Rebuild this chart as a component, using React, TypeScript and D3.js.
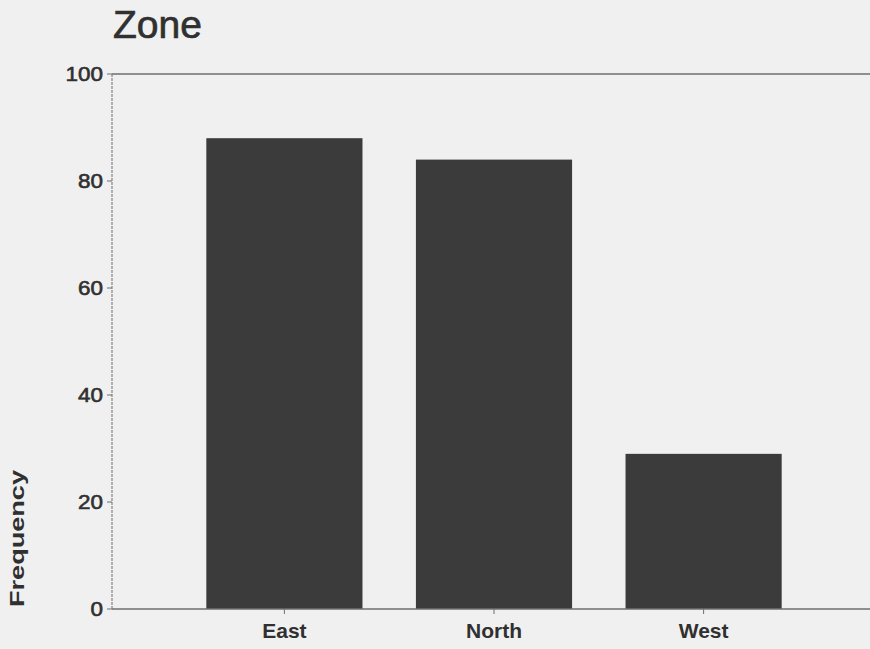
import React from "react";
import * as d3 from "d3";

const categories: string[] = ["East", "North", "West"];
const frequencies: number[] = [88, 84, 29];
const yTicks: number[] = [0, 20, 40, 60, 80, 100];
const titleText = "Zone";
const yLabelText = "Frequency";

const W = 870;
const H = 649;
const FONT = "'Liberation Sans', Arial, Helvetica, sans-serif";
const TEXT = "#303030";
const AXIS = "#6f6f6f";
const BAR = "#3b3b3b";
const BG = "#f0f0f0";

export default function App() {
  const left = 112;
  const bottom = 609;
  const top = 74;
  const x = d3
    .scaleBand<string>()
    .domain(categories)
    .range([left, 876])
    .paddingInner(0.255)
    .paddingOuter(0.45);
  const y = d3.scaleLinear().domain([0, 100]).range([bottom, top]);

  return (
    <div style={{ position: "absolute", left: 0, top: 0 }}>
      <svg width={W} height={H} style={{ display: "block", background: BG }}>
        <rect x={0} y={0} width={W} height={H} fill={BG} />
        <text
          x={113}
          y={38}
          fontFamily={FONT}
          fontSize={39}
          fill={TEXT}
          stroke={TEXT}
          strokeWidth={0.7}
        >
          {titleText}
        </text>
        {/* top frame line */}
        <line x1={left} x2={W} y1={y(100)} y2={y(100)} stroke={AXIS} strokeWidth={1.3} />
        {/* bars */}
        {categories.map((c, i) => (
          <rect
            key={c}
            x={x(c)!}
            y={y(frequencies[i])}
            width={x.bandwidth()}
            height={y(0) - y(frequencies[i])}
            fill={BAR}
          />
        ))}
        {/* y axis */}
        <line x1={left} x2={left} y1={top} y2={bottom} stroke={AXIS} strokeWidth={1} strokeDasharray="3 1" />
        {yTicks.map((t) => (
          <g key={t}>
            <line x1={left - 5} x2={left} y1={y(t)} y2={y(t)} stroke={AXIS} strokeWidth={1} />
            <text
              transform={`translate(${left - 9},${y(t) + 7}) scale(1.15,1)`}
              textAnchor="end"
              fontFamily={FONT}
              fontSize={19.5}
              fill={TEXT}
              stroke={TEXT}
              strokeWidth={0.6}
            >
              {t}
            </text>
          </g>
        ))}
        {/* x axis */}
        <line x1={left} x2={W} y1={bottom} y2={bottom} stroke={AXIS} strokeWidth={1.3} />
        {categories.map((c) => {
          const cx = x(c)! + x.bandwidth() / 2;
          return (
            <g key={c}>
              <line x1={cx} x2={cx} y1={bottom} y2={bottom + 5} stroke={AXIS} strokeWidth={1} />
              <text
                x={cx}
                y={638}
                textAnchor="middle"
                fontFamily={FONT}
                fontSize={21}
                fontWeight="bold"
                fill={TEXT}
              >
                {c}
              </text>
            </g>
          );
        })}
        <text
          transform={`translate(24,538.5) rotate(-90)`}
          textAnchor="middle"
          fontFamily={FONT}
          fontSize={21}
          fontWeight="bold"
          textLength={137}
          lengthAdjust="spacingAndGlyphs"
          fill={TEXT}
        >
          {yLabelText}
        </text>
      </svg>
    </div>
  );
}
